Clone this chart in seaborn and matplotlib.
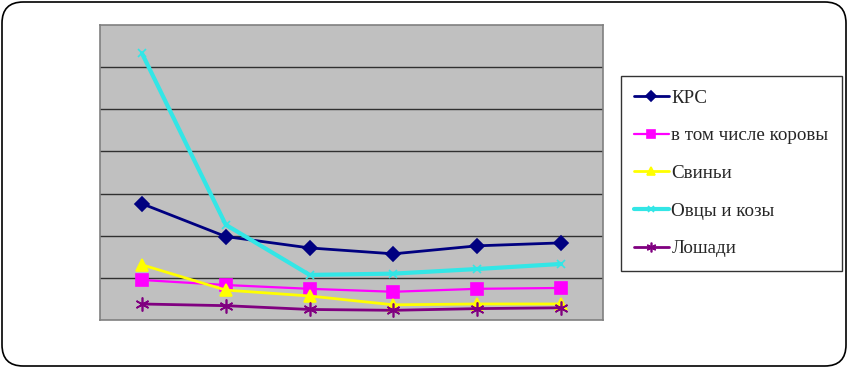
import matplotlib
matplotlib.use("Agg")
import matplotlib.pyplot as plt
from matplotlib.patches import FancyBboxPatch
import seaborn as sns
import pandas as pd

# --- data ---
categories = ["1", "2", "3", "4", "5", "6"]
krs = [27.6, 19.8, 17.1, 15.7, 17.6, 18.3]
korovy = [9.5, 8.3, 7.4, 6.7, 7.4, 7.6]
svini = [13.1, 7.1, 5.7, 3.6, 3.8, 3.8]
ovcy = [63.3, 22.6, 10.7, 11.0, 12.1, 13.3]
loshadi = [3.8, 3.4, 2.5, 2.3, 2.7, 2.9]

series = [
    ("КРС", krs, "#000080", "D", 7, 2.0),
    ("в том числе коровы", korovy, "#FF00FF", "s", 9, 1.6),
    ("Свиньи", svini, "#FFFF00", "^", 9, 2.0),
    ("Овцы и козы", ovcy, "#33E6E6", "x", 6, 3.0),
    ("Лошади", loshadi, "#800080", (6, 2, 0), 10, 2.0),
]

sns.set_style("white")
plt.rcParams["font.family"] = ["Liberation Serif", "DejaVu Serif"]

fig = plt.figure(figsize=(8.48, 3.67), dpi=100)
ax = fig.add_axes([100 / 848, 47 / 367, 503 / 848, 295 / 367])
ax.set_facecolor("#C0C0C0")

x = list(range(len(categories)))
for name, vals, col, mk, ms, lw in series:
    df = pd.DataFrame({"x": x, "y": vals})
    sns.lineplot(data=df, x="x", y="y", ax=ax, color=col, marker=mk,
                 markersize=ms, linewidth=lw, markeredgecolor=col,
                 markeredgewidth=1.2, label=name, legend=False)

ax.set_xlim(-0.5, 5.5)
ax.set_ylim(0, 70)
ax.set_yticks(range(10, 70, 10))
ax.yaxis.grid(True, color="#303030", linewidth=1.0)
ax.set_axisbelow(True)
ax.set_xticks([])
ax.tick_params(left=False, labelleft=False)
ax.set_xlabel("")
ax.set_ylabel("")
for s in ax.spines.values():
    s.set_color("#808080")
    s.set_linewidth(1.2)

handles, labels = ax.get_legend_handles_labels()
leg = fig.legend(handles, labels, loc="upper left",
                 bbox_to_anchor=(621 / 848, 1 - 76 / 367),
                 frameon=True, fancybox=False, edgecolor="black",
                 fontsize=13.7, handlelength=1.8, handletextpad=0.15,
                 labelspacing=1.07, borderpad=0.7, borderaxespad=0,
                 markerscale=0.7)
leg.get_frame().set_linewidth(1.0)

# rounded outer border of the chart area
border = FancyBboxPatch((2 / 848, 1 / 367), 844 / 848, 364 / 367,
                        boxstyle="round,pad=0,rounding_size=0.025",
                        transform=fig.transFigure, fill=False,
                        edgecolor="black", linewidth=1.2,
                        mutation_aspect=848 / 367)
fig.patches.append(border)

fig.savefig("out.png", dpi=100)
